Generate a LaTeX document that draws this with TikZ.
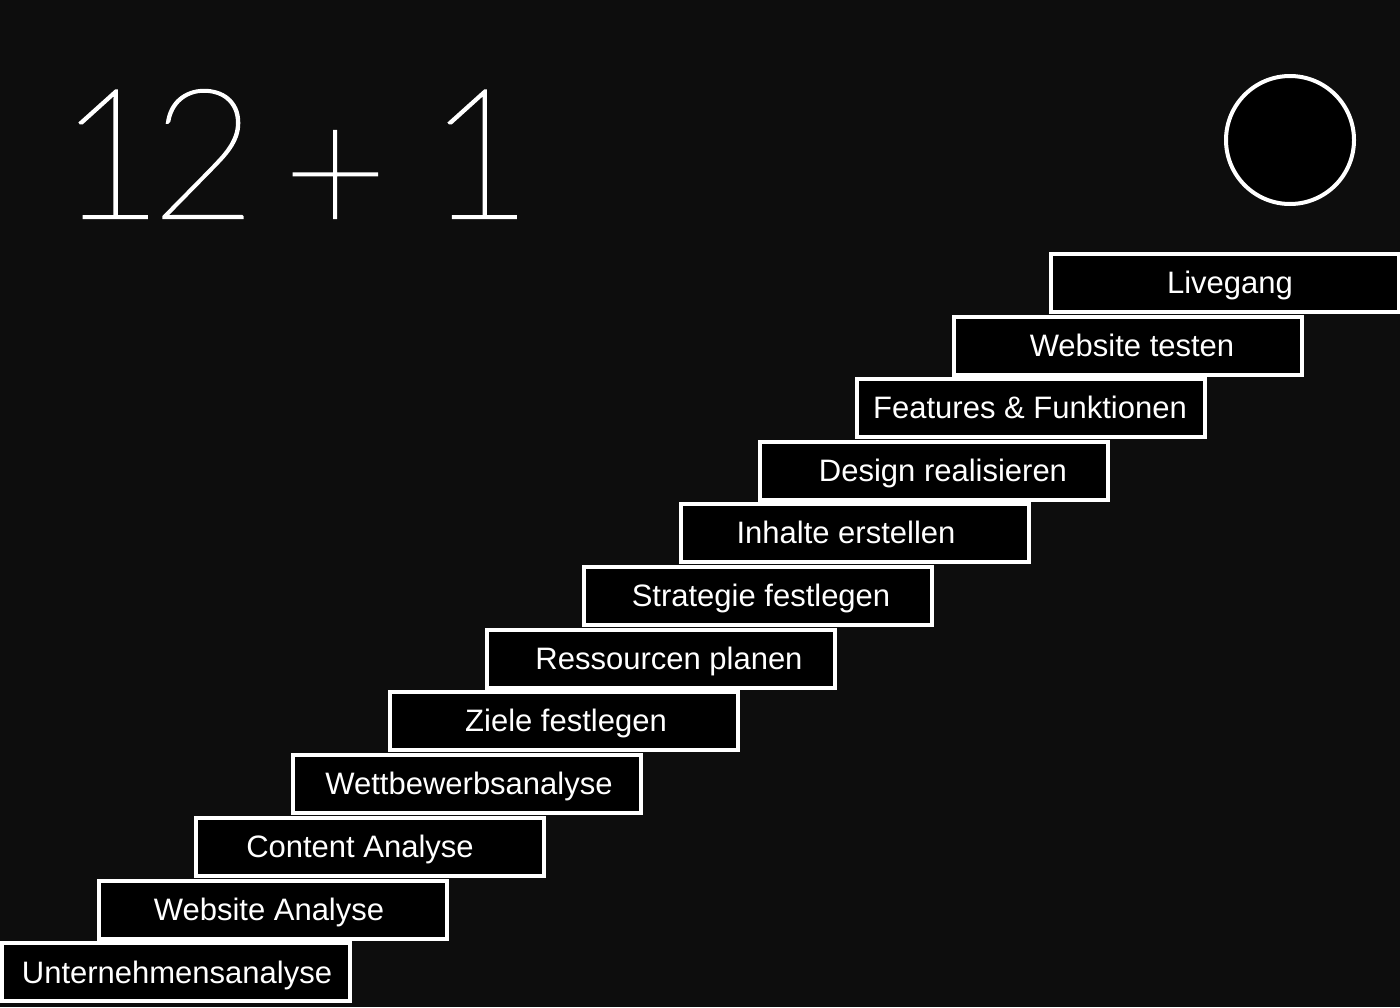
\documentclass[tikz,border=0pt]{standalone}
\usepackage{fontspec}
\setmainfont{Liberation Sans}
\newfontfamily\thinfont{Lato Hairline}[FakeBold=1.2]
\definecolor{bg}{RGB}{13,13,13}
\tikzset{
  stepbox/.style={draw=white, fill=black, line width=4pt, rectangle,
    minimum width=348pt, minimum height=58pt, inner sep=0pt},
  steptext/.style={text=white, anchor=base, inner sep=0pt,
    font=\fontsize{31}{31}\selectfont},
}
\begin{document}
\begin{tikzpicture}[x=1pt,y=-1pt]
\fill[bg] (0,0) rectangle (1400,1007);
\useasboundingbox (0,0) rectangle (1400,1007);
% title
\node[text=white, anchor=base west, inner sep=0pt,
  font=\thinfont\fontsize{181}{181}\selectfont] (title) at (58,218)
  {1\kern-12pt 2\kern-25pt\ \raisebox{-17pt}{+}\ \kern-12pt 1};
% circle
\node[draw=white, fill=black, line width=4pt, circle, minimum size=128pt, inner sep=0pt] (circ) at (1290,140) {};
% steps
\node[stepbox] (s1)  at (175.5,972)   {};
\node[stepbox] (s2)  at (272.5,909.5) {};
\node[stepbox] (s3)  at (369.5,846.5) {};
\node[stepbox] (s4)  at (466.5,783.5) {};
\node[stepbox] (s5)  at (563.5,720.5) {};
\node[stepbox] (s6)  at (660.5,658.5) {};
\node[stepbox] (s7)  at (757.5,595.5) {};
\node[stepbox] (s8)  at (854.5,532.5) {};
\node[stepbox] (s9)  at (934,470.5)   {};
\node[stepbox] (s10) at (1031,407.5)  {};
\node[stepbox] (s11) at (1128,345.5)  {};
\node[stepbox] (s12) at (1224.5,282.5){};
\node[steptext] (t1)  at (177,983)    {Unternehmensanalyse};
\node[steptext] (t2)  at (269,920.5)  {Website Analyse};
\node[steptext] (t3)  at (360,857.5)  {Content Analyse};
\node[steptext] (t4)  at (469,794.5)  {Wettbewerbsanalyse};
\node[steptext] (t5)  at (566,731.5)  {Ziele festlegen};
\node[steptext] (t6)  at (669,669.5)  {Ressourcen planen};
\node[steptext] (t7)  at (761,606.5)  {Strategie festlegen};
\node[steptext] (t8)  at (846,543.5)  {Inhalte erstellen};
\node[steptext] (t9)  at (943,481.5)  {Design realisieren};
\node[steptext] (t10) at (1030,418.5) {Features \& Funktionen};
\node[steptext] (t11) at (1132,356.5) {Website testen};
\node[steptext] (t12) at (1230,293.5) {Livegang};
\end{tikzpicture}
\end{document}
